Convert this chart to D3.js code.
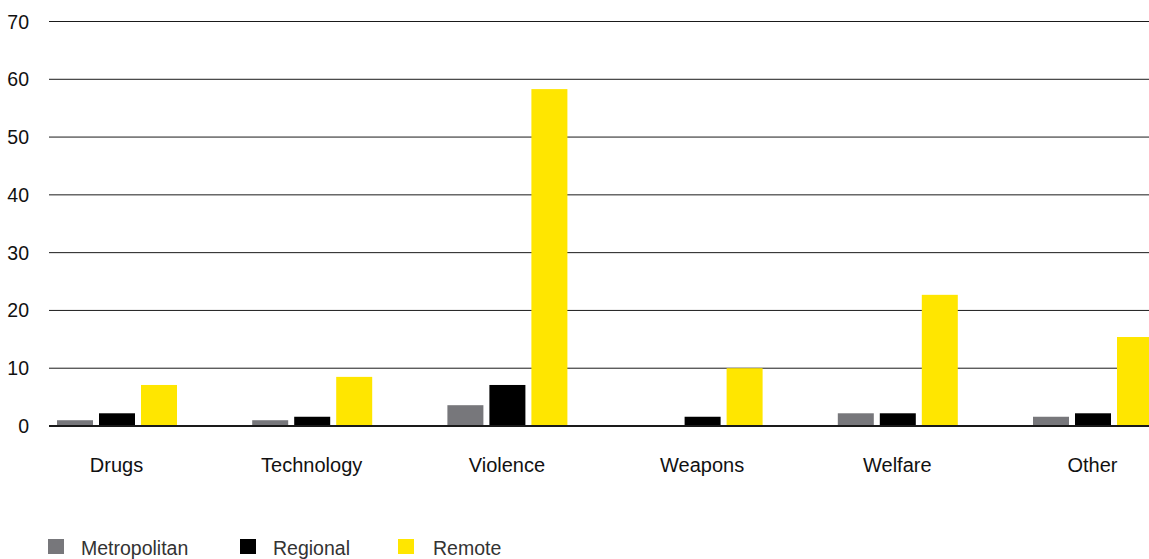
<!DOCTYPE html>
<html>
<head>
<meta charset="utf-8">
<script src="https://cdn.jsdelivr.net/npm/d3@7"></script>
<style>
  html, body { margin: 0; padding: 0; background: #fff; }
  svg { display: block; font-family: "Liberation Sans", Arial, Helvetica, sans-serif; }
</style>
</head>
<body>
<svg id="chart" width="1149" height="559"></svg>
<script>
const categories = ["Drugs", "Technology", "Violence", "Weapons", "Welfare", "Other"];
const seriesNames = ["Metropolitan", "Regional", "Remote"];
const metropolitan = [1.0, 1.0, 3.6, 0, 2.2, 1.6];
const regional = [2.2, 1.6, 7.1, 1.6, 2.2, 2.2];
const remote = [7.1, 8.5, 58.3, 10.0, 22.7, 15.4];
const yTicks = [0, 10, 20, 30, 40, 50, 60, 70];
const colors = ["#77777b", "#000000", "#ffe600"];

const seriesValues = [metropolitan, regional, remote];
const svg = d3.select("#chart");

const y = d3.scaleLinear().domain([0, 70]).range([426, 21.5]);
const x = d3.scalePoint().domain(categories).range([117, 117 + 5 * 195.2]);
const xInner = d3.scaleBand().domain(seriesNames).range([-60, 60]).paddingInner(6 / 42).paddingOuter(0);

// gridlines
const gridX0 = 49, gridX1 = 1149;
svg.append("g").selectAll("line").data(yTicks.filter(d => d !== 0)).join("line")
  .attr("x1", gridX0).attr("x2", gridX1)
  .attr("y1", d => y(d)).attr("y2", d => y(d))
  .attr("stroke", "#1a1a1a").attr("stroke-width", 1);

// y tick labels
svg.append("g").selectAll("text").data(yTicks).join("text")
  .attr("x", 29).attr("y", d => y(d))
  .attr("dy", "0.36em")
  .attr("text-anchor", "end")
  .attr("font-size", 19.5)
  .attr("fill", "#111")
  .text(d => d);

// bars
const groups = svg.append("g").selectAll("g").data(categories).join("g")
  .attr("transform", c => `translate(${x(c)},0)`);
groups.selectAll("rect")
  .data((c, i) => seriesNames.map((s, j) => ({ s, j, v: seriesValues[j][i] })))
  .join("rect")
  .attr("x", d => xInner(d.s))
  .attr("width", xInner.bandwidth())
  .attr("y", d => y(d.v))
  .attr("height", d => y(0) - y(d.v))
  .attr("fill", d => colors[d.j]);

// zero axis line
svg.append("line")
  .attr("x1", gridX0).attr("x2", gridX1)
  .attr("y1", y(0)).attr("y2", y(0))
  .attr("stroke", "#1a1a1a").attr("stroke-width", 2);

// category labels
svg.append("g").selectAll("text").data(categories).join("text")
  .attr("x", c => x(c) - 0.5).attr("y", 472)
  .attr("text-anchor", "middle")
  .attr("font-size", 20)
  .attr("fill", "#111")
  .text(c => c);

// legend
const legendX = [48, 240, 398];
const legend = svg.append("g").selectAll("g").data(seriesNames).join("g")
  .attr("transform", (s, i) => `translate(${legendX[i]},539)`);
legend.append("rect").attr("width", 16).attr("height", 15)
  .attr("fill", (s, i) => colors[i]);
legend.append("text").attr("x", (s, i) => i === 2 ? 35 : 33).attr("y", 16)
  .attr("font-size", 19.5).attr("fill", "#333")
  .text(s => s);
</script>
</body>
</html>
